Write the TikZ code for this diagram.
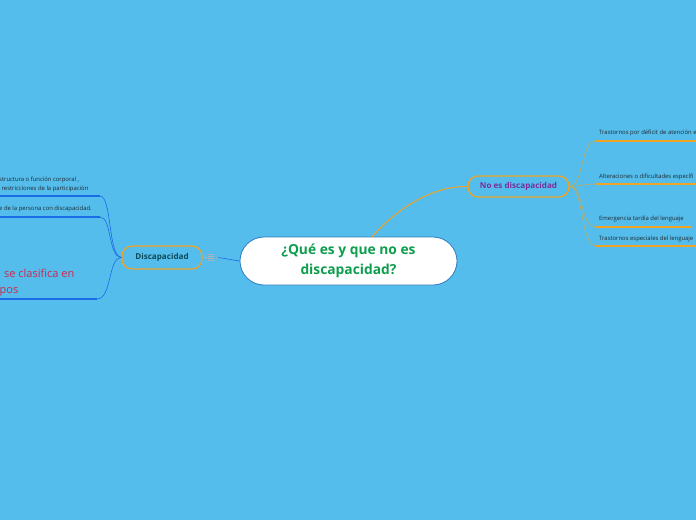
\documentclass[tikz,border=0pt]{standalone}
\usepackage{fontspec}
\setmainfont{Open Sans}
\definecolor{bg}{HTML}{55BDEB}
\definecolor{cborder}{HTML}{2A7CC0}
\definecolor{cgreen}{HTML}{0E9E4E}
\definecolor{corange}{HTML}{F0A325}
\definecolor{dteal}{HTML}{0C4A58}
\definecolor{cpurple}{HTML}{7B2D9E}
\definecolor{lblue}{HTML}{1A6CE6}
\definecolor{cred}{HTML}{D0264C}
\definecolor{tdark}{HTML}{1E2A33}
\tikzset{
  centrebox/.style={draw=cborder, line width=0.8pt, fill=white, rounded corners=24pt, minimum width=217pt, minimum height=48pt, align=center, text=cgreen, font=\fontsize{13.8}{20}\selectfont\bfseries, inner sep=0pt},
  subbox/.style={draw=corange, line width=1.2pt, rounded corners=10pt, font=\fontsize{8.1}{9}\selectfont\bfseries, inner sep=0pt},
  tinytext/.style={font=\fontsize{5.9}{7}\selectfont, text=tdark, inner sep=0pt, anchor=west},
  bluelink/.style={draw=lblue, line width=0.6pt},
  blueline/.style={draw=lblue, line width=1.6pt},
  orangelink/.style={draw=corange, line width=0.5pt, opacity=0.8},
  orangeline/.style={draw=corange, line width=1.6pt},
  redtext/.style={inner sep=0pt, anchor=base west, text=cred, font=\fontsize{11}{13}\selectfont},
}
\begin{document}
\begin{tikzpicture}[x=1pt,y=-1pt]
\useasboundingbox (0,0) rectangle (696,520);
\fill[bg] (0,0) rectangle (696,520);
\clip (0,0) rectangle (696,520);

% central node
\node[centrebox] (c) at (348.5,261) {¿Qué es y que no es\\discapacidad?};

% Discapacidad
\node[subbox, text=dteal, minimum width=80pt, minimum height=23pt] (d) at (162,257.5) {Discapacidad};
\node[inner sep=0pt, text=gray!70, font=\fontsize{5}{6}\selectfont] (ic) at (213,257.5) {\tikz[x=1pt,y=1pt]{\draw[gray!60,line width=0.7pt] (0,0)--(6,0) (0,2)--(6,2) (0,4)--(6,4) (0,-2)--(6,-2);}\,1};
\draw[bluelink] (c.west) -- (ic.east);
\draw[bluelink, draw=lblue!50] (ic.west) -- (d.east);

% No es discapacidad
\node[subbox, text=cpurple, minimum width=101pt, minimum height=21pt] (n) at (518.5,186.5) {No es discapacidad};
\coordinate (cs) at (372,237);
\draw[corange, line width=1pt] (cs) .. controls (400,205) and (435,186) .. (n.west);

% left branches
\coordinate (l1s) at (-2,196); \coordinate (l1e) at (100,196);
\coordinate (l2s) at (-2,217); \coordinate (l2e) at (100,217);
\coordinate (l3s) at (-2,299); \coordinate (l3e) at (97,299);
\draw[blueline] (l1s) -- (l1e);
\draw[blueline] (l2s) -- (l2e);
\draw[blueline] (l3s) -- (l3e);
\draw[bluelink] (d.west) .. controls (108,257) and (112,196) .. (l1e);
\draw[bluelink] (d.west) .. controls (108,257) and (112,217) .. (l2e);
\draw[bluelink] (d.west) .. controls (108,257) and (112,299) .. (l3e);

\node[tinytext] (t1) at (-1,179.5) {structura o función corporal ,};
\node[tinytext] (t2) at (1.5,188.5) {restricciones de la participación};
\node[tinytext] (t3) at (-1,209) {e de la persona con discapacidad.};
\node[redtext] (r1) at (4,277.5) {se clasifica en};
\node[redtext] (r2) at (-0.5,293) {pos};

% right branches
\coordinate (r1s) at (596,141); \coordinate (r1e) at (700,141);
\coordinate (r2s) at (596,184); \coordinate (r2e) at (700,184);
\coordinate (r3s) at (596,227); \coordinate (r3e) at (691,227);
\coordinate (r4s) at (596,246); \coordinate (r4e) at (700,246);
\draw[orangeline] (r1s) -- (r1e);
\draw[orangeline] (r2s) -- (r2e);
\draw[orangeline] (r3s) -- (r3e);
\draw[orangeline] (r4s) -- (r4e);
\draw[orangelink] (n.east) .. controls (584,186) and (580,141) .. (r1s);
\draw[orangelink] (n.east) .. controls (584,186) and (582,184) .. (r2s);
\draw[orangelink] (n.east) .. controls (584,186) and (580,227) .. (r3s);
\draw[orangelink] (n.east) .. controls (584,186) and (580,246) .. (r4s);

\node[tinytext] (u1) at (599,133) {Trastornos por déficit de atención e};
\node[tinytext] (u2) at (599,176.5) {Alteraciones o dificultades específi};
\node[tinytext] (u3) at (599,219) {Emergencia tardía del lenguaje};
\node[tinytext] (u4) at (599,238.5) {Trastornos especiales del lenguaje};
\end{tikzpicture}
\end{document}
